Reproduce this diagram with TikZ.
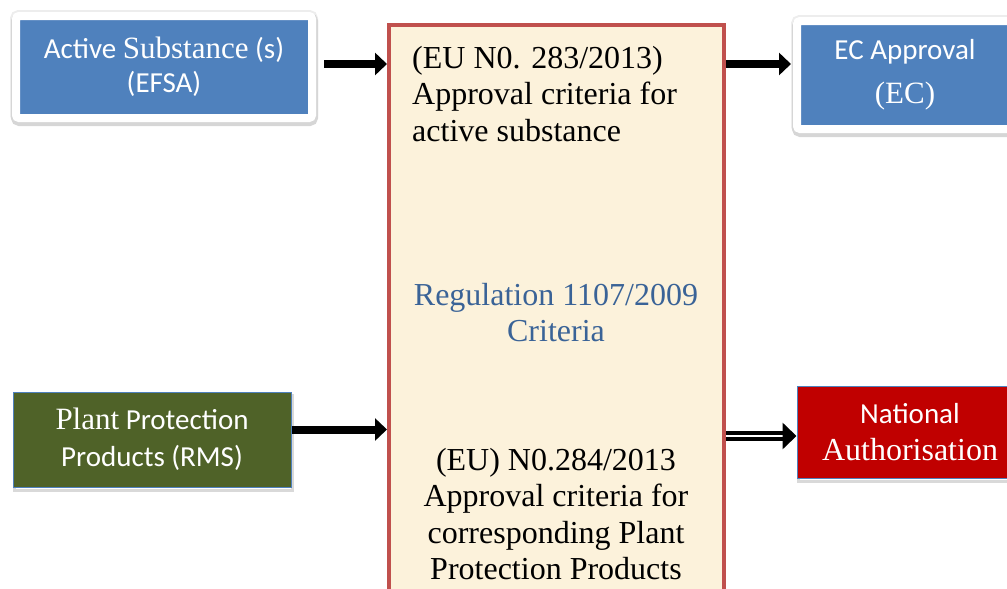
\documentclass[tikz,border=0pt]{standalone}
\usepackage{fontspec}
\setmainfont{Liberation Serif}
\newfontfamily\calfont{Carlito}
\usepackage{xcolor}
\usetikzlibrary{positioning, arrows.meta, shadows}

\definecolor{boxblue}{HTML}{4F81BD}
\definecolor{boxgreen}{HTML}{4F6228}
\definecolor{boxred}{HTML}{C00000}
\definecolor{critborder}{HTML}{C0504D}
\definecolor{critfill}{HTML}{FCF2DB}
\definecolor{regblue}{HTML}{3A6397}

\newcommand{\sanstext}{\calfont\fontsize{29}{37}\selectfont}
\newcommand{\seriftext}[1]{{\rmfamily\fontsize{31}{37}\selectfont #1}}

\begin{document}
\begin{tikzpicture}[x=1pt, y=-1pt,
        framed/.style={fill=boxblue, draw=white, line width=8pt, rounded corners=3pt,
            text=white, align=center, font=\sanstext,
            preaction={draw=black!7, line width=12pt, rounded corners=5pt},
            preaction={draw=black!16, line width=11pt, rounded corners=5pt,
                transform canvas={xshift=0.5pt, yshift=-2.5pt}}},
        plainbox/.style={draw=boxblue, line width=1pt, text=white, align=center, font=\sanstext,
            preaction={draw=black!15, line width=3pt, transform canvas={xshift=1pt, yshift=-3pt}}},
        critbox/.style={fill=critfill, draw=critborder, line width=4pt,
            minimum width=335pt, minimum height=620pt},
        crittext/.style={inner sep=0pt, font=\fontsize{32}{36.5}\selectfont},
        bigarrow/.style={line width=8pt, -{Triangle[length=12pt, width=22pt]}},
        dblarrow/.style={line width=4pt, double=white, double distance=2.5pt,
            -{Triangle[length=14pt, width=26pt]}}]

        \useasboundingbox (0,0) rectangle (1007,589);
        \clip (0,0) rectangle (1007,589);

        \node[critbox] (crit) at (556.5,335) {};
        \node[crittext, anchor=north west, align=left] (crit283) at (412,46)
            {(EU N0. 283/2013)\\Approval criteria for\\active substance};
        \node[crittext, anchor=north, align=center, text=regblue] (reg) at (556,283)
            {Regulation 1107/2009\\Criteria};
        \node[crittext, anchor=north, align=center] (crit284) at (556,448)
            {(EU) N0.284/2013\\Approval criteria for\\corresponding Plant\\Protection Products};

        \node[framed, minimum width=296pt, minimum height=102pt] (act) at (164,67)
            {\raisebox{-3pt}{Active \seriftext{Substance} (s)}\\(EFSA)};
        \node[framed, minimum width=216pt, minimum height=108pt] (ec) at (905,75)
            {EC Approval\\[7pt]\seriftext{(EC)}};
        \node[plainbox, fill=boxgreen, minimum width=278pt, minimum height=95pt] (ppp) at (152,439.5)
            {\seriftext{Plant} Protection\\Products (RMS)};
        \node[plainbox, fill=boxred, minimum width=226pt, minimum height=92pt] (nat) at (910,432)
            {National\\{\rmfamily\fontsize{32}{37}\selectfont Authorisation}};

        \draw[bigarrow, shorten <=8pt] ([yshift=3pt]act.east) -- ([yshift=3pt]act.east -| crit.west);
        \draw[bigarrow] ([yshift=3pt]act.east -| crit.east) -- ([yshift=3pt, xshift=-2pt]act.east -| ec.west);
        \draw[bigarrow] ([yshift=10pt]ppp.east) -- ([yshift=10pt]ppp.east -| crit.west);
        \draw[dblarrow] ([yshift=-4pt]nat.west -| crit.east) -- ([yshift=-4pt]nat.west);

\end{tikzpicture}
\end{document}
